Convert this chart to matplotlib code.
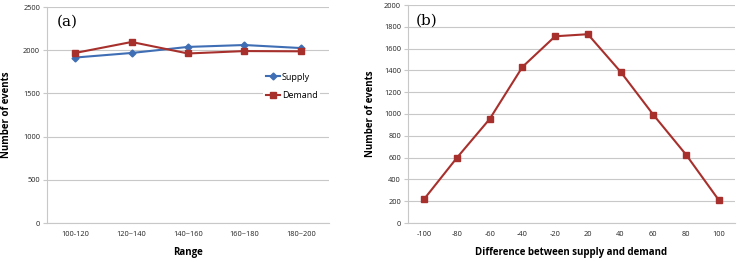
import matplotlib
matplotlib.use("Agg")
import matplotlib.pyplot as plt

# panel (a)
ranges = ["100-120", "120~140", "140~160", "160~180", "180~200"]
supply = [1915, 1968, 2038, 2060, 2025]
demand = [1968, 2095, 1962, 1990, 1987]

# panel (b)
diff_labels = ["-100", "-80", "-60", "-40", "-20", "20", "40", "60", "80", "100"]
diff_counts = [222, 600, 955, 1432, 1713, 1732, 1388, 994, 628, 212]

blue = "#3F6EB5"
red = "#A8302C"
grid_c = "#C8C8C8"
font = "Open Sans"

fig = plt.figure(figsize=(7.44, 2.62), dpi=100)
axa = fig.add_axes([47 / 744, 39 / 262, 282 / 744, 216 / 262])
axb = fig.add_axes([408 / 744, 39 / 262, 327 / 744, 218 / 262])


def style(ax):
    for s in ("top", "right"):
        ax.spines[s].set_visible(False)
    for s in ("left", "bottom"):
        ax.spines[s].set_color(grid_c)
        ax.spines[s].set_linewidth(0.8)
    ax.yaxis.grid(True, color=grid_c, linewidth=0.8)
    ax.set_axisbelow(True)
    ax.tick_params(axis="y", length=3, color=grid_c, labelsize=5.3, pad=2, labelcolor="#222222")
    ax.tick_params(axis="x", length=0, labelsize=5.3, pad=6, labelcolor="#222222")
    for lab in ax.get_xticklabels() + ax.get_yticklabels():
        lab.set_fontfamily(font)


x = range(len(ranges))
axa.plot(x, supply, color=blue, lw=1.5, marker="D", ms=3.5, label="Supply")
axa.plot(x, demand, color=red, lw=1.5, marker="s", ms=4.5, label="Demand")
axa.set_xlim(-0.5, len(ranges) - 0.5)
axa.set_ylim(0, 2500)
axa.set_yticks(range(0, 2501, 500))
axa.set_xticks(list(x))
axa.set_xticklabels(ranges)
style(axa)
axa.set_xlabel("Range", fontsize=7, fontweight="bold", family=font, labelpad=6)
axa.set_ylabel("Number of events", fontsize=7, fontweight="bold", family=font, labelpad=8)
axa.text(0.035, 0.93, "(a)", transform=axa.transAxes, fontsize=11, family="DejaVu Serif", va="center")
leg = axa.legend(loc="upper left", bbox_to_anchor=(0.75, 0.73), frameon=True,
                 prop={"family": font, "size": 6.5}, handlelength=1.6, borderpad=0.3,
                 labelspacing=1.05, handletextpad=0.2)
leg.get_frame().set_edgecolor("none")
leg.get_frame().set_facecolor("white")
leg.get_frame().set_alpha(1)

xb = range(len(diff_labels))
axb.plot(xb, diff_counts, color=red, lw=1.5, marker="s", ms=5)
axb.set_xlim(-0.5, len(diff_labels) - 0.5)
axb.set_ylim(0, 2000)
axb.set_yticks(range(0, 2001, 200))
axb.set_xticks(list(xb))
axb.set_xticklabels(diff_labels)
style(axb)
axb.set_xlabel("Difference between supply and demand", fontsize=7, fontweight="bold", family=font, labelpad=6)
axb.set_ylabel("Number of events", fontsize=7, fontweight="bold", family=font, labelpad=6)
axb.text(0.025, 0.93, "(b)", transform=axb.transAxes, fontsize=11, family="DejaVu Serif", va="center")

fig.savefig("out.png", dpi=100)
